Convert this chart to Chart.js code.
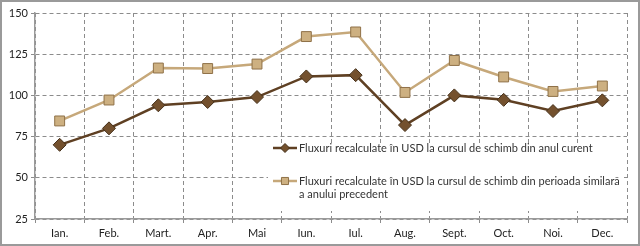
<!DOCTYPE html>
<html>
<head>
<meta charset="utf-8">
<script src="https://cdn.jsdelivr.net/npm/chart.js@4.4.1/dist/chart.umd.min.js"></script>
<style>
  html, body { margin: 0; padding: 0; background: #fff; }
  #wrap { width: 640px; height: 246px; box-sizing: border-box; border: 2px solid #9a9a9a; }
</style>
</head>
<body>
<div id="wrap"><canvas id="chart" width="636" height="242"></canvas></div>
<script>
const months = ['Ian.', 'Feb.', 'Mart.', 'Apr.', 'Mai', 'Iun.', 'Iul.', 'Aug.', 'Sept.', 'Oct.', 'Noi.', 'Dec.'];
const currentRate = [70, 80, 94, 96, 99, 111.5, 112.3, 82, 100, 97.3, 90.5, 97];
const previousRate = [84.5, 97.2, 116.6, 116.3, 119, 135.7, 138.5, 101.8, 121.2, 111.2, 102.4, 105.7];
const seriesNames = [
  ['Fluxuri recalculate în USD la cursul de schimb din anul curent'],
  ['Fluxuri recalculate în USD la cursul de schimb din perioada similară', 'a anului precedent']
];

const FONT = '11px Lato, "Open Sans", sans-serif';

// legend drawn inside the plot area, bottom right, on a white box
const insideLegend = {
  id: 'insideLegend',
  afterDraw(chart) {
    const ctx = chart.ctx;
    const ds = chart.data.datasets;
    ctx.save();
    ctx.fillStyle = '#fff';
    ctx.fillRect(266, 141, 356, 68);
    const rows = [146, 179];
    ds.forEach((d, i) => {
      const y = rows[i];
      ctx.strokeStyle = d.borderColor;
      ctx.lineWidth = 2.5;
      ctx.beginPath();
      ctx.moveTo(271, y);
      ctx.lineTo(295, y);
      ctx.stroke();
      ctx.fillStyle = d.pointBackgroundColor;
      ctx.strokeStyle = d.pointBorderColor;
      ctx.lineWidth = 1;
      Chart.helpers.drawPoint(ctx, {
        pointStyle: d.pointStyle, radius: i === 0 ? 4.5 : 5, borderWidth: 1
      }, 283, y);
      ctx.fillStyle = '#333';
      ctx.font = FONT;
      ctx.textBaseline = 'middle';
      seriesNames[i].forEach((t, k) => ctx.fillText(t, 297, y + k * 13));
    });
    ctx.restore();
  }
};

new Chart(document.getElementById('chart'), {
  type: 'line',
  data: {
    labels: months,
    datasets: [{
      label: seriesNames[0].join(' '),
      data: currentRate,
      borderColor: '#5f4023',
      borderWidth: 2.5,
      pointStyle: 'rectRot',
      pointRadius: 6.5,
      pointBackgroundColor: '#74512e',
      pointBorderColor: '#45301a',
      pointBorderWidth: 1,
      tension: 0
    }, {
      label: seriesNames[1].join(' '),
      data: previousRate,
      borderColor: '#c6a87a',
      borderWidth: 2.5,
      pointStyle: 'rect',
      pointRadius: 7,
      pointBackgroundColor: '#cdb081',
      pointBorderColor: '#8f7148',
      pointBorderWidth: 1,
      tension: 0
    }]
  },
  options: {
    responsive: false,
    animation: false,
    layout: { padding: { top: 11, right: 11, left: 0, bottom: 0 } },
    plugins: { legend: { display: false }, tooltip: { enabled: false } },
    scales: {
      x: {
        offset: true,
        afterFit: s => { s.height = 25; },
        grid: { offset: true, color: '#8c8c8c', tickLength: 4 },
        border: { color: '#9a9a9a', width: 1.5, dash: [4, 3] },
        ticks: { color: '#222', font: { family: 'Lato, "Open Sans", sans-serif', size: 11 }, padding: 4, maxRotation: 0 }
      },
      y: {
        min: 25,
        max: 150,
        afterFit: s => { s.width = 33; },
        grid: { color: '#8c8c8c', tickLength: 4 },
        border: { color: '#9a9a9a', width: 1.5, dash: [4, 3] },
        ticks: { stepSize: 25, color: '#222', font: { family: 'Lato, "Open Sans", sans-serif', size: 11 }, padding: 3 }
      }
    }
  },
  plugins: [insideLegend]
});
</script>
</body>
</html>
